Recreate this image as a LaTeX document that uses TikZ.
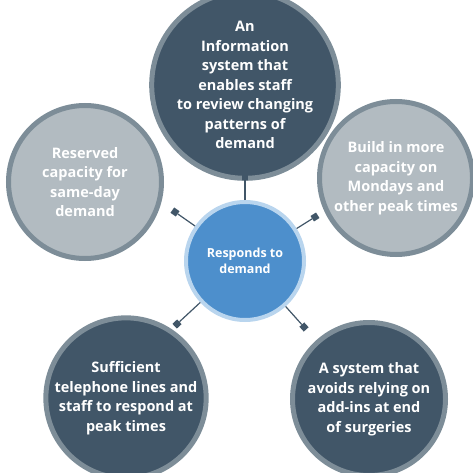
\documentclass[tikz,border=0pt]{standalone}
\usepackage{fontspec}
\setmainfont{Open Sans}
\usepackage{xcolor}
\usetikzlibrary{calc}
\definecolor{dark_slate}{HTML}{415668}
\definecolor{ring_grey}{HTML}{7D8D98}
\definecolor{pale_grey}{HTML}{B2BBC1}
\definecolor{mid_blue}{HTML}{4D8FCC}
\definecolor{pale_blue}{HTML}{B9D5EE}

\begin{document}
\begin{tikzpicture}[x=1pt, y=-1pt,
	bubble/.style={circle, draw=ring_grey, line width=5pt, minimum size=153pt, inner sep=0pt,
		align=center, text=white, font=\bfseries\fontsize{14.5}{19.5}\selectfont},
	dark bubble/.style={bubble, fill=dark_slate},
	light bubble/.style={bubble, fill=pale_grey},
	hub/.style={circle, draw=pale_blue, fill=mid_blue, line width=4pt, minimum size=118pt, inner sep=0pt,
		align=center, text=white, font=\bfseries\fontsize{12.5}{16.5}\selectfont},
	marker/.style={fill=dark_slate, minimum size=6.5pt, inner sep=0pt},
	link/.style={dark_slate, line width=1.2pt}]
	\useasboundingbox (0, 0) rectangle (473, 473);
	\node[dark bubble] (info) at (245, 85) {An\\Information\\system that\\enables staff\\to review changing\\patterns of\\demand};
	\node[light bubble] (reserved) at (85, 182) {Reserved\\capacity for\\same-day\\demand};
	\node[light bubble] (build) at (396, 178) {Build in more\\capacity on\\Mondays and\\other peak times};
	\node[dark bubble] (phones) at (126, 398) {Sufficient\\telephone lines and\\staff to respond at\\peak times};
	\node[dark bubble] (addins) at (369, 399) {A system that\\avoids relying on\\add-ins at end\\of surgeries};
	\node[hub] (core) at (245, 261) {Responds to\\demand};
	\node[marker] (m_top) at (245, 177) {};
	\node[marker, rotate=55] (m_ul) at (175, 212) {};
	\node[marker, rotate=32] (m_ur) at (315, 217) {};
	\node[marker, rotate=43] (m_ll) at (177, 324) {};
	\node[marker, rotate=42] (m_lr) at (304, 327) {};
	\draw[link] (core) -- (m_top);
	\draw[link] (core) -- (m_ul);
	\draw[link] (core) -- (m_ur);
	\draw[link] (core) -- (m_ll);
	\draw[link] (core) -- (m_lr);
\end{tikzpicture}
\end{document}
